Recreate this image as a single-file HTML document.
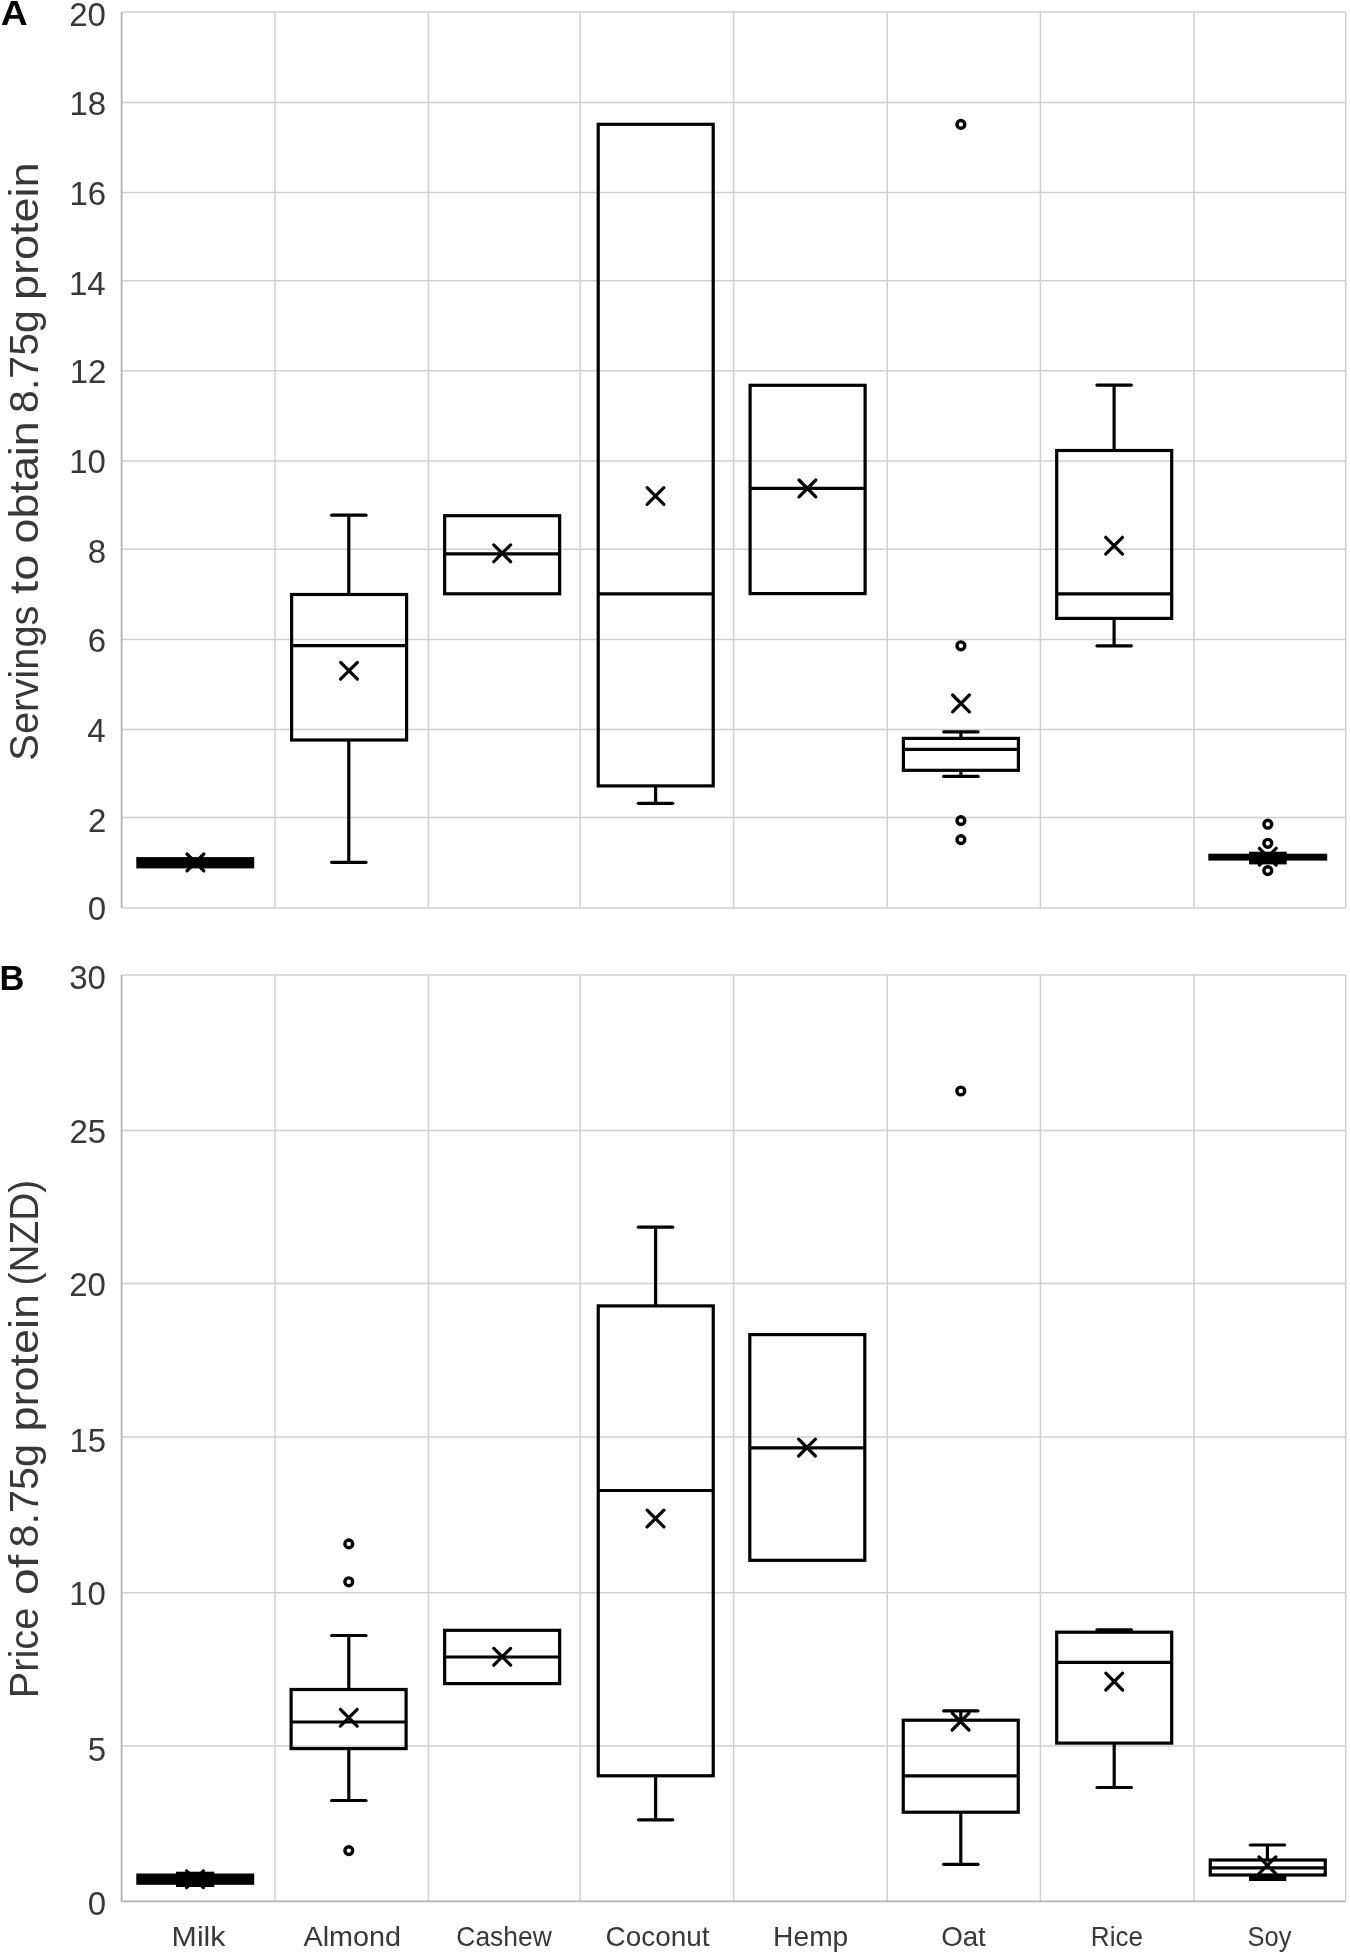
<!DOCTYPE html>
<html><head><meta charset="utf-8"><title>Plant-based milk: servings and price for 8.75 g protein</title>
<style>
html,body{margin:0;padding:0;background:#fff;}
body{width:1350px;height:1956px;overflow:hidden;}
svg{display:block;}
text{font-family:"Liberation Sans",sans-serif;}
.g{stroke:#cfcfcf;stroke-width:1.5;fill:none;}
.gb{stroke:#cfcfcf;stroke-width:1.5;fill:none;}
.ax{stroke:#b4b4b4;stroke-width:1.8;fill:none;}
.s{stroke:#000;stroke-width:3.2;fill:none;}
.x{stroke:#000;stroke-width:3.2;fill:none;stroke-linecap:round;}
.r{stroke-linecap:round;}
.o{stroke:#000;stroke-width:3.4;fill:none;}
.t{font-size:33px;fill:#383838;}
.c{font-size:27.5px;fill:#383838;}
.yt{font-size:40.5px;fill:#383838;}
.p{font-size:35.6px;font-weight:bold;fill:#000;}
</style></head>
<body>
<svg width="1350" height="1956" viewBox="0 0 1350 1956">
<line x1="121.6" y1="12.1" x2="1345.7" y2="12.1" class="g"/>
<line x1="121.6" y1="102.4" x2="1345.7" y2="102.4" class="g"/>
<line x1="121.6" y1="192.6" x2="1345.7" y2="192.6" class="g"/>
<line x1="121.6" y1="280.7" x2="1345.7" y2="280.7" class="g"/>
<line x1="121.6" y1="370.8" x2="1345.7" y2="370.8" class="g"/>
<line x1="121.6" y1="461" x2="1345.7" y2="461" class="g"/>
<line x1="121.6" y1="549.2" x2="1345.7" y2="549.2" class="g"/>
<line x1="121.6" y1="639.4" x2="1345.7" y2="639.4" class="g"/>
<line x1="121.6" y1="729.6" x2="1345.7" y2="729.6" class="g"/>
<line x1="121.6" y1="817.6" x2="1345.7" y2="817.6" class="g"/>
<line x1="274.9" y1="12.1" x2="274.9" y2="908" class="g"/>
<line x1="428.4" y1="12.1" x2="428.4" y2="908" class="g"/>
<line x1="580.1" y1="12.1" x2="580.1" y2="908" class="g"/>
<line x1="733.6" y1="12.1" x2="733.6" y2="908" class="g"/>
<line x1="887.2" y1="12.1" x2="887.2" y2="908" class="g"/>
<line x1="1040.4" y1="12.1" x2="1040.4" y2="908" class="g"/>
<line x1="1194" y1="12.1" x2="1194" y2="908" class="g"/>
<line x1="1345.7" y1="12.1" x2="1345.7" y2="908" class="g"/>
<line x1="121.6" y1="908" x2="1345.7" y2="908" class="gb"/>
<line x1="121.6" y1="12.1" x2="121.6" y2="908" class="ax"/>
<line x1="121.6" y1="974.9" x2="1345.7" y2="974.9" class="g"/>
<line x1="121.6" y1="1130.4" x2="1345.7" y2="1130.4" class="g"/>
<line x1="121.6" y1="1283.6" x2="1345.7" y2="1283.6" class="g"/>
<line x1="121.6" y1="1437" x2="1345.7" y2="1437" class="g"/>
<line x1="121.6" y1="1592.7" x2="1345.7" y2="1592.7" class="g"/>
<line x1="121.6" y1="1745.9" x2="1345.7" y2="1745.9" class="g"/>
<line x1="274.9" y1="974.9" x2="274.9" y2="1901.4" class="g"/>
<line x1="428.4" y1="974.9" x2="428.4" y2="1901.4" class="g"/>
<line x1="580.1" y1="974.9" x2="580.1" y2="1901.4" class="g"/>
<line x1="733.6" y1="974.9" x2="733.6" y2="1901.4" class="g"/>
<line x1="887.2" y1="974.9" x2="887.2" y2="1901.4" class="g"/>
<line x1="1040.4" y1="974.9" x2="1040.4" y2="1901.4" class="g"/>
<line x1="1194" y1="974.9" x2="1194" y2="1901.4" class="g"/>
<line x1="1345.7" y1="974.9" x2="1345.7" y2="1901.4" class="g"/>
<line x1="121.6" y1="1901.4" x2="1345.7" y2="1901.4" class="ax"/>
<line x1="121.6" y1="974.9" x2="121.6" y2="1901.4" class="ax"/>
<rect x="136.3" y="857.1" width="117.9" height="11.3"/>
<path d="M187 854L203.8 870.8M203.8 854L187 870.8" class="x"/>
<line x1="348.8" y1="515.2" x2="348.8" y2="594.5" class="s"/>
<line x1="331.6" y1="515.2" x2="366" y2="515.2" class="s r"/>
<line x1="348.8" y1="740" x2="348.8" y2="862.3" class="s"/>
<line x1="331.6" y1="862.3" x2="366" y2="862.3" class="s r"/>
<rect x="291.6" y="594.5" width="115" height="145.5" class="s"/>
<line x1="291.6" y1="645.7" x2="406.6" y2="645.7" class="s"/>
<path d="M340.6 662.4L357.4 679.2M357.4 662.4L340.6 679.2" class="x"/>
<rect x="444.65" y="515.7" width="115" height="78.1" class="s"/>
<line x1="444.65" y1="553.9" x2="559.65" y2="553.9" class="s"/>
<path d="M493.8 544.9L510.6 561.7M510.6 544.9L493.8 561.7" class="x"/>
<line x1="655.6" y1="785.9" x2="655.6" y2="803.3" class="s"/>
<line x1="638.4" y1="803.3" x2="672.8" y2="803.3" class="s r"/>
<rect x="598.2" y="124.3" width="115" height="661.6" class="s"/>
<line x1="598.2" y1="593.9" x2="713.2" y2="593.9" class="s"/>
<path d="M647.1 487.6L663.9 504.4M663.9 487.6L647.1 504.4" class="x"/>
<rect x="750.1" y="385.3" width="115" height="208.3" class="s"/>
<line x1="750.1" y1="488.4" x2="865.1" y2="488.4" class="s"/>
<path d="M799 480L815.8 496.8M815.8 480L799 496.8" class="x"/>
<line x1="960.9" y1="731.9" x2="960.9" y2="738.4" class="s"/>
<line x1="943.7" y1="731.9" x2="978.1" y2="731.9" class="s r"/>
<line x1="960.9" y1="770.3" x2="960.9" y2="776.4" class="s"/>
<line x1="943.7" y1="776.4" x2="978.1" y2="776.4" class="s r"/>
<rect x="903.4" y="738.4" width="115" height="31.9" class="s"/>
<line x1="903.4" y1="749.4" x2="1018.4" y2="749.4" class="s"/>
<path d="M952.6 695L969.4 711.8M969.4 695L952.6 711.8" class="x"/>
<circle cx="960.9" cy="124.4" r="3.9" class="o"/>
<circle cx="960.9" cy="645.8" r="3.9" class="o"/>
<circle cx="960.9" cy="820.6" r="3.9" class="o"/>
<circle cx="960.9" cy="839.6" r="3.9" class="o"/>
<line x1="1114.1" y1="385.1" x2="1114.1" y2="450.5" class="s"/>
<line x1="1096.9" y1="385.1" x2="1131.3" y2="385.1" class="s r"/>
<line x1="1114.1" y1="618.4" x2="1114.1" y2="645.8" class="s"/>
<line x1="1096.9" y1="645.8" x2="1131.3" y2="645.8" class="s r"/>
<rect x="1056.7" y="450.5" width="115" height="167.9" class="s"/>
<line x1="1056.7" y1="593.9" x2="1171.7" y2="593.9" class="s"/>
<path d="M1105.7 537.3L1122.5 554.1M1122.5 537.3L1105.7 554.1" class="x"/>
<rect x="1208.3" y="853.7" width="118.9" height="6.9"/>
<rect x="1249.1" y="851.7" width="37.6" height="12.7"/>
<path d="M1259.4 848.3L1276.2 865.1M1276.2 848.3L1259.4 865.1" class="x"/>
<circle cx="1267.8" cy="824.2" r="3.9" class="o"/>
<circle cx="1267.8" cy="843.3" r="3.9" class="o"/>
<circle cx="1267.8" cy="870.6" r="3.9" class="o"/>
<rect x="136.3" y="1873.5" width="117.9" height="11.3"/>
<rect x="176" y="1871.7" width="38.3" height="15.3"/>
<path d="M186.6 1870.8L203.4 1887.6M203.4 1870.8L186.6 1887.6" class="x"/>
<line x1="348.8" y1="1635.5" x2="348.8" y2="1689.5" class="s"/>
<line x1="331.6" y1="1635.5" x2="366" y2="1635.5" class="s r"/>
<line x1="348.8" y1="1748.6" x2="348.8" y2="1800.5" class="s"/>
<line x1="331.6" y1="1800.5" x2="366" y2="1800.5" class="s r"/>
<rect x="291.1" y="1689.5" width="115" height="59.1" class="s"/>
<line x1="291.1" y1="1722" x2="406.1" y2="1722" class="s"/>
<path d="M340.4 1709.3L357.2 1726.1M357.2 1709.3L340.4 1726.1" class="x"/>
<circle cx="348.8" cy="1543.9" r="3.9" class="o"/>
<circle cx="348.8" cy="1581.8" r="3.9" class="o"/>
<circle cx="348.8" cy="1850.6" r="3.9" class="o"/>
<rect x="444.65" y="1630.3" width="115" height="53.3" class="s"/>
<line x1="444.65" y1="1657" x2="559.65" y2="1657" class="s"/>
<path d="M493.8 1648.4L510.6 1665.2M510.6 1648.4L493.8 1665.2" class="x"/>
<line x1="655.6" y1="1227.2" x2="655.6" y2="1305.9" class="s"/>
<line x1="638.4" y1="1227.2" x2="672.8" y2="1227.2" class="s r"/>
<line x1="655.6" y1="1775.8" x2="655.6" y2="1819.8" class="s"/>
<line x1="638.4" y1="1819.8" x2="672.8" y2="1819.8" class="s r"/>
<rect x="598.25" y="1305.9" width="115" height="469.9" class="s"/>
<line x1="598.25" y1="1490.5" x2="713.25" y2="1490.5" class="s"/>
<path d="M647.1 1510.1L663.9 1526.9M663.9 1510.1L647.1 1526.9" class="x"/>
<rect x="749.8" y="1334.6" width="115" height="225.7" class="s"/>
<line x1="749.8" y1="1447.9" x2="864.8" y2="1447.9" class="s"/>
<path d="M798.6 1439.2L815.4 1456M815.4 1439.2L798.6 1456" class="x"/>
<line x1="960.8" y1="1710.8" x2="960.8" y2="1720.2" class="s"/>
<line x1="943.6" y1="1710.8" x2="978" y2="1710.8" class="s r"/>
<line x1="960.8" y1="1812.2" x2="960.8" y2="1864.3" class="s"/>
<line x1="943.6" y1="1864.3" x2="978" y2="1864.3" class="s r"/>
<rect x="903.25" y="1720.2" width="115" height="92" class="s"/>
<line x1="903.25" y1="1775.8" x2="1018.25" y2="1775.8" class="s"/>
<path d="M952.2 1713.2L969 1730M969 1713.2L952.2 1730" class="x"/>
<circle cx="960.8" cy="1091" r="3.9" class="o"/>
<line x1="1114.2" y1="1629.9" x2="1114.2" y2="1632.2" class="s"/>
<line x1="1097" y1="1629.9" x2="1131.4" y2="1629.9" class="s r"/>
<line x1="1114.2" y1="1743.1" x2="1114.2" y2="1787.5" class="s"/>
<line x1="1097" y1="1787.5" x2="1131.4" y2="1787.5" class="s r"/>
<rect x="1056.7" y="1632.2" width="115" height="110.9" class="s"/>
<line x1="1056.7" y1="1662.3" x2="1171.7" y2="1662.3" class="s"/>
<path d="M1105.8 1673.2L1122.6 1690M1122.6 1673.2L1105.8 1690" class="x"/>
<line x1="1267.4" y1="1845" x2="1267.4" y2="1860" class="s"/>
<line x1="1250.2" y1="1845" x2="1284.6" y2="1845" class="s r"/>
<rect x="1210.25" y="1860" width="115" height="15" class="s"/>
<line x1="1210.25" y1="1867.8" x2="1325.25" y2="1867.8" class="s"/>
<rect x="1249" y="1874" width="37.3" height="7"/>
<path d="M1259 1856.9L1275.8 1873.7M1275.8 1856.9L1259 1873.7" class="x"/>
<g style="opacity:0.999">
<text class="t" x="69.2" y="26.4">20</text>
<text class="t" x="69.45" y="114.75">18</text>
<text class="t" x="69.45" y="204.95">16</text>
<text class="t" x="68.95" y="295.1">14</text>
<text class="t" x="69.7" y="382.95">12</text>
<text class="t" x="69.2" y="473.3">10</text>
<text class="t" x="87.7" y="563.1">8</text>
<text class="t" x="87.7" y="651.6">6</text>
<text class="t" x="87.2" y="742.1">4</text>
<text class="t" x="87.95" y="831.95">2</text>
<text class="t" x="87.7" y="919.75">0</text>
<text class="t" x="69.2" y="989.25">30</text>
<text class="t" x="69.45" y="1142.85">25</text>
<text class="t" x="69.2" y="1296">20</text>
<text class="t" x="69.45" y="1451.65">15</text>
<text class="t" x="69.2" y="1605.05">10</text>
<text class="t" x="87.7" y="1760.85">5</text>
<text class="t" x="87.7" y="1914.85">0</text>
<text class="c" transform="translate(171.62 1946) scale(1.1032 1.0000)">Milk</text>
<text class="c" transform="translate(303.5 1946) scale(1.0470 1.0000)">Almond</text>
<text class="c" transform="translate(456.36 1946) scale(0.9602 1.0000)">Cashew</text>
<text class="c" transform="translate(605.58 1946) scale(1.0154 1.0000)">Coconut</text>
<text class="c" transform="translate(773.09 1946) scale(1.0257 1.0000)">Hemp</text>
<text class="c" transform="translate(941.14 1946) scale(1.0082 1.0000)">Oat</text>
<text class="c" transform="translate(1090.87 1946) scale(0.9476 1.0000)">Rice</text>
<text class="c" transform="translate(1247.54 1946) scale(0.9261 1.0000)">Soy</text>
<text class="yt" transform="translate(37.7 760.67) rotate(-90) scale(0.9851 1)">Servings</text>
<text class="yt" transform="translate(37.7 593.88) rotate(-90) scale(1.1619 1)">to</text>
<text class="yt" transform="translate(37.7 543.44) rotate(-90) scale(1.1075 1)">obtain</text>
<text class="yt" transform="translate(37.7 412.88) rotate(-90) scale(1.0144 1)">8.75g</text>
<text class="yt" transform="translate(37.7 300.06) rotate(-90) scale(1.1122 1)">protein</text>
<text class="yt" transform="translate(37.7 1698.18) rotate(-90) scale(0.9799 1)">Price</text>
<text class="yt" transform="translate(37.7 1595.08) rotate(-90) scale(1.1875 1)">of</text>
<text class="yt" transform="translate(37.7 1547.49) rotate(-90) scale(1.0216 1)">8.75g</text>
<text class="yt" transform="translate(37.7 1431.46) rotate(-90) scale(1.1114 1)">protein</text>
<text class="yt" transform="translate(37.7 1285.39) rotate(-90) scale(0.9577 1)">(NZD)</text>
<text class="p" transform="translate(0.75 24.7) scale(1.0484 1.0000)">A</text>
<text class="p" transform="translate(-0.52 990) scale(0.9674 1.0000)">B</text>
</g>
</svg>
</body></html>
